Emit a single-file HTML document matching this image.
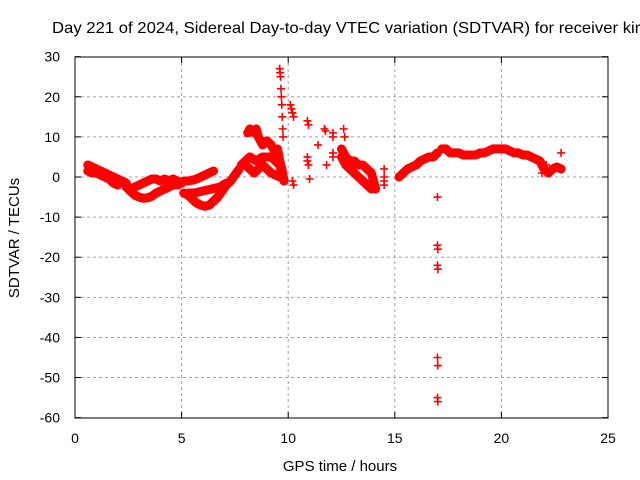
<!DOCTYPE html>
<html><head><meta charset="utf-8"><style>
html,body{margin:0;padding:0;background:#fff;width:640px;height:480px;overflow:hidden}
svg{display:block;font-family:"Liberation Sans",sans-serif}
</style></head><body>
<svg id="chart" width="640" height="480">
<text x="52" y="33" font-size="16" textLength="592" lengthAdjust="spacingAndGlyphs" fill="#000">Day 221 of 2024, Sidereal Day-to-day VTEC variation (SDTVAR) for receiver kiri</text>
<text transform="translate(19,238) rotate(-90)" text-anchor="middle" font-size="15">SDTVAR / TECUs</text>
<text x="340" y="471" text-anchor="middle" font-size="15">GPS time / hours</text>
<g id="grid"></g><g id="ticks"></g><g id="marks"></g>
<rect x="75" y="57" width="533" height="361" fill="none" stroke="#000" stroke-width="1"/>
</svg>
<script>
const xTicks=[0,5,10,15,20,25];
const yTicks=[30,20,10,0,-10,-20,-30,-40,-50,-60];
const trackA_h=[0.6,0.8,1.0,1.2,1.4,1.6,1.8,2.0,2.2,2.4];
const trackA_v=[3,2.5,2,1.5,1,0.5,0,-0.5,-1,-1.5];
const trackB_h=[0.6,0.8,1.0,1.2,1.4,1.6,1.8,2.0];
const trackB_v=[1.5,1,1,0.5,0,-0.5,-1.5,-2];
const trackC_h=[2.4,2.6,2.8,3.0,3.2,3.4,3.6,3.8,4.0,4.2,4.4,4.6,4.8,5.0];
const trackC_v=[-2.5,-3.5,-4.5,-5,-5.3,-5.2,-4.8,-4,-3.5,-3,-2.5,-2,-2,-1.5];
const trackD_h=[2.4,2.6,2.8,3.0,3.2,3.4,3.6,3.8,4.0,4.2,4.4,4.6,4.8,5.0];
const trackD_v=[-2,-3,-2.5,-2,-1.5,-1,-0.5,-0.5,-1,-0.5,-1,-0.5,-1,-1.5];
const trackE_h=[5.1,5.3,5.5,5.7,5.9,6.1,6.3,6.5,6.7,6.9,7.1,7.3,7.5,7.7];
const trackE_v=[-4,-4.5,-5.5,-6.5,-7,-7.3,-7,-6,-5,-3.5,-2,-1,0.5,2];
const trackF_h=[5.1,5.3,5.5,5.7,5.9,6.1,6.3,6.5];
const trackF_v=[-1,-1,-0.8,-0.5,0,0.5,1,1.5];
const trackG_h=[5.3,5.6,6.0,6.4,6.8,7.1];
const trackG_v=[-4,-4,-3.5,-3,-2.5,-1.5];
const trackH_h=[7.8,8.0,8.2,8.5,8.8,9.0,9.2,9.4,9.6,9.7];
const trackH_v=[3,4,5,4,5,5,5,4,3,1];
const trackI_h=[8.0,8.2,8.4,8.6,8.8,9.0,9.2,9.4,9.6];
const trackI_v=[3,2,1,2,3,2,1,0.5,0];
const trackJ_h=[8.1,8.2,8.4,8.5,8.6,8.8,9.0,9.2,9.4,9.5,9.6,9.7,9.8];
const trackJ_v=[11,12,11,12,10,8,9,8,6,7,4,2,-1];
const trackK_h=[12.5,12.7,12.9,13.1,13.3,13.5,13.7,13.9];
const trackK_v=[5,3,2,1,0,-1,-2,-3];
const trackL_h=[12.5,12.7,12.9,13.1,13.3,13.5,13.7,13.9,14.1];
const trackL_v=[7,5,4,4,3,3,2,1,-3];
const trackM_h=[15.2,15.4,15.6,15.8,16.0,16.2,16.4,16.6,16.8,17.0];
const trackM_v=[0,1,2,2.5,3,4,4.5,5,5,6];
const trackN_h=[17.2,17.4,17.6,17.8,18,18.2,18.4,18.6,18.8,19,19.2,19.4,19.6,19.8,20,20.2,20.4,20.6,20.8,21,21.2,21.4,21.6,21.8,22,22.2,22.4,22.6,22.8];
const trackN_v=[7,7,6,6,6,5.5,5.5,5.5,5.5,6,6,6.5,7,7,7,7,6.5,6,6,5.5,5.5,5,4.5,4,2,1,2,2.5,2];
const isoH=[9.6,9.62,9.64,9.66,9.68,9.7,9.72,9.74,9.76,10.1,10.15,10.2,10.25,10.2,10.25,10.9,10.95,10.9,10.9,10.95,11.0,11.4,11.7,11.75,11.8,12.1,12.1,12.1,12.1,12.6,12.65,14.5,14.5,14.5,14.5,17.0,17.0,17.02,17.0,17.02,17.0,17.02,17.0,17.02,21.9,22.1,22.8];
const isoV=[27,26,25,22,20,18,15,12,10,18,17,16,15,-1,-2,14,13,5,4,3,-0.5,8,12,11.5,3,11,10,6,5,12,10,2,0,-1,-2,-5,-17,-18,-22,-23,-45,-47,-55,-56,1,3,6];
const tracks=[[trackA_h,trackA_v],[trackB_h,trackB_v],[trackC_h,trackC_v],[trackD_h,trackD_v],[trackE_h,trackE_v],[trackF_h,trackF_v],[trackG_h,trackG_v],[trackH_h,trackH_v],[trackI_h,trackI_v],[trackJ_h,trackJ_v],[trackK_h,trackK_v],[trackL_h,trackL_v],[trackM_h,trackM_v],[trackN_h,trackN_v]];
const NS="http://www.w3.org/2000/svg";
const X=h=>75+h*(533/25);
const Y=v=>177-v*(361/90);
const grid=document.getElementById('grid'),ticks=document.getElementById('ticks'),marks=document.getElementById('marks');
function mk(tag,attrs,parent){const e=document.createElementNS(NS,tag);for(const k in attrs)e.setAttribute(k,attrs[k]);parent.appendChild(e);return e;}
xTicks.forEach(t=>{
 const x=X(t);
 if(t>0&&t<25){const g=mk('line',{x1:x,x2:x,y1:57,y2:418,stroke:'#a0a0a0','stroke-dasharray':'3,3'},grid);
 
 }
 mk('line',{x1:x,x2:x,y1:418,y2:412,stroke:'#000'},ticks);
 mk('line',{x1:x,x2:x,y1:57,y2:63,stroke:'#000'},ticks);
 const l=mk('text',{x:x,y:443,'text-anchor':'middle','font-size':'14'},ticks);l.textContent=t;
 
 
});
yTicks.forEach(t=>{
 const y=Y(t);
 if(t<30&&t>-60){const g=mk('line',{x1:75,x2:608,y1:y,y2:y,stroke:'#a0a0a0','stroke-dasharray':'3,3'},grid);
 
 }
 mk('line',{x1:75,x2:81,y1:y,y2:y,stroke:'#000'},ticks);
 mk('line',{x1:608,x2:602,y1:y,y2:y,stroke:'#000'},ticks);
 const l=mk('text',{x:60,y:y+5,'text-anchor':'end','font-size':'14'},ticks);l.textContent=t;
 
 
});
function plus(h,v){
 const x=X(h),y=Y(v);
 const p=mk('path',{d:`M${x-4},${y}H${x+4}M${x},${y-4}V${y+4}`,stroke:'#f00','stroke-width':'1.6',fill:'none'},marks);
 
 
}
tracks.forEach(([hs,vs])=>{
 const pl=mk('polyline',{points:hs.map((h,i)=>X(h)+','+Y(vs[i])).join(' '),stroke:'#f00','stroke-width':'9',fill:'none','stroke-linejoin':'round','stroke-linecap':'round'},marks);
 
 
 hs.forEach((h,i)=>plus(h,vs[i]));
});
isoH.forEach((h,i)=>plus(h,isoV[i]));
</script>
</body></html>
